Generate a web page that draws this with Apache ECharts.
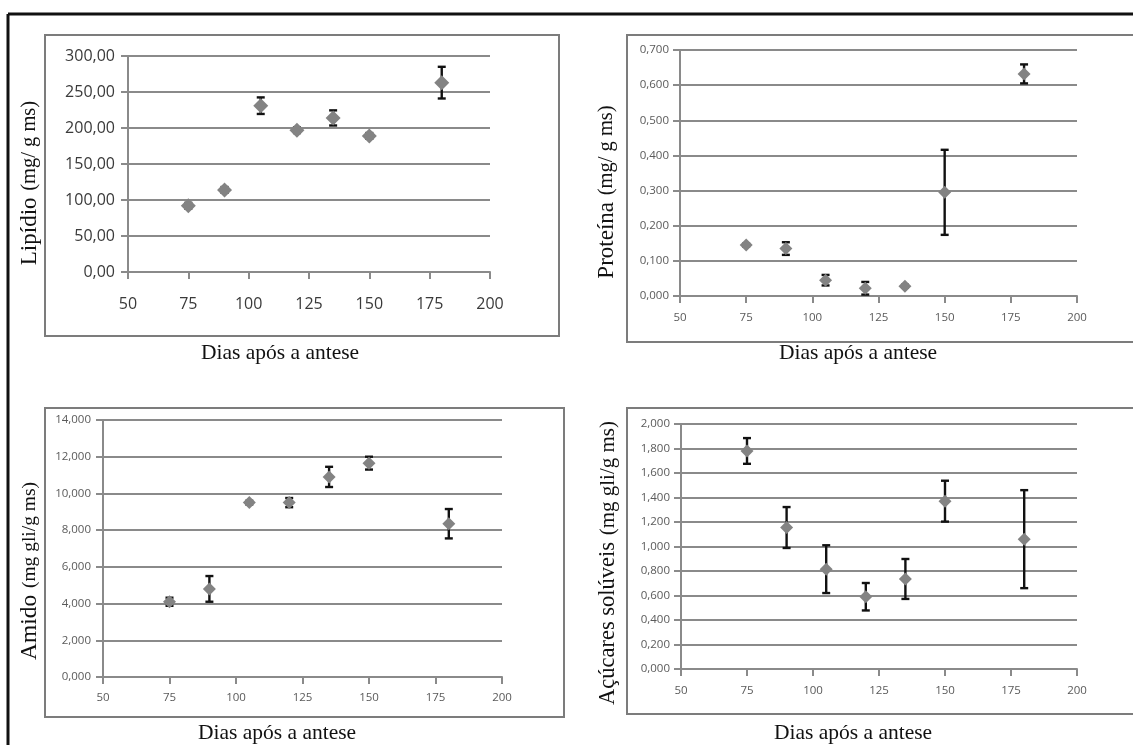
<!DOCTYPE html>
<html><head><meta charset="utf-8">
<script src="https://cdn.jsdelivr.net/npm/echarts@6/dist/echarts.min.js"></script>
<style>html,body{margin:0;padding:0;background:#fff}#c{width:1133px;height:745px}</style>
</head><body><div id="c"></div>
<script>
// ---- data ----
const days = [75, 90, 105, 120, 135, 150, 180];
const lipidio = [92, 114, 231, 197, 214, 189, 263];
const lipidioErr = [4, 4, 11.5, 4, 10.5, 4, 22];
const proteina = [0.145, 0.135, 0.045, 0.022, 0.028, 0.295, 0.632];
const proteinaErr = [0.004, 0.018, 0.015, 0.018, 0.004, 0.121, 0.027];
const amido = [4.1, 4.8, 9.5, 9.5, 10.9, 11.65, 8.35];
const amidoErr = [0.22, 0.7, 0.1, 0.25, 0.55, 0.35, 0.8];
const acucares = [1.78, 1.155, 0.815, 0.59, 0.735, 1.37, 1.06];
const acucaresErr = [0.105, 0.167, 0.195, 0.112, 0.163, 0.167, 0.40];
const xAxisTitle = 'Dias após a antese';
const yTitles = [
  ['Lipídio', '(mg/ g ms)'],
  ['Proteína', '(mg/ g ms)'],
  ['Amido', '(mg gli/g ms)'],
  ['Açúcares solúveis', '(mg gli/g ms)']
];

// ---- layout ----
const panels = [
  {vals: lipidio, errs: lipidioErr, max: 300, interval: 50, dec: 2,
   grid: {left: 128, top: 56, width: 362, height: 216}, big: true,
   xl: 24, yl: 13, sym: 15},
  {vals: proteina, errs: proteinaErr, max: 0.7, interval: 0.1, dec: 3,
   grid: {left: 680, top: 50, width: 397, height: 246}, big: false,
   xl: 16, yl: 11, sym: 13},
  {vals: amido, errs: amidoErr, max: 14, interval: 2, dec: 3,
   grid: {left: 103, top: 420, width: 399, height: 257}, big: false,
   xl: 15, yl: 12, sym: 13},
  {vals: acucares, errs: acucaresErr, max: 2, interval: 0.2, dec: 3,
   grid: {left: 681, top: 424, width: 396, height: 245}, big: false,
   xl: 16, yl: 11, sym: 13}
];
const frames = [
  {x: 45, y: 35, w: 514, h: 301},
  {x: 627, y: 35, w: 520, h: 307},
  {x: 45, y: 408, w: 519, h: 309},
  {x: 627, y: 408, w: 520, h: 306}
];
const yTitlePos = [[30, 183, 23, 20.5], [607, 192, 23, 20.5], [30, 571, 23.5, 19.5], [608, 563, 22.5, 21]];
const xTitlePos = [[280, 353], [858, 353], [277, 733], [853, 733]];

const gridColor = '#8a8a8a';
const fmt = d => v => v.toFixed(d).replace('.', ',');

function errRender(params, api) {
  const x = api.value(0), y = api.value(1), e = api.value(2);
  const t = api.coord([x, y + e]), b = api.coord([x, y - e]);
  const c = 4;
  const st = {stroke: '#111', lineWidth: 2.4};
  return {type: 'group', children: [
    {type: 'line', shape: {x1: t[0], y1: t[1], x2: b[0], y2: b[1]}, style: st},
    {type: 'line', shape: {x1: t[0] - c, y1: t[1], x2: t[0] + c, y2: t[1]}, style: st},
    {type: 'line', shape: {x1: b[0] - c, y1: b[1], x2: b[0] + c, y2: b[1]}, style: st}
  ]};
}

const option = {
  backgroundColor: '#fff',
  animation: false,
  grid: [], xAxis: [], yAxis: [], series: [], graphic: []
};

panels.forEach((p, i) => {
  const labelFont = p.big
    ? {fontFamily: 'Open Sans', fontSize: 16, color: '#3a3a3a'}
    : {fontFamily: 'Open Sans', fontSize: 11.5, color: '#5a5a5a'};
  option.grid.push(Object.assign({containLabel: false}, p.grid));
  option.xAxis.push({
    type: 'value', gridIndex: i, min: 50, max: 200, interval: 25,
    axisLine: {show: true, onZero: false, lineStyle: {color: gridColor, width: 2}},
    axisTick: {show: true, length: 7, lineStyle: {color: gridColor, width: 2}},
    splitLine: {show: false},
    axisLabel: Object.assign({margin: p.xl}, labelFont)
  });
  option.yAxis.push({
    type: 'value', gridIndex: i, min: 0, max: p.max, interval: p.interval,
    axisLine: {show: true, lineStyle: {color: gridColor, width: 2}},
    axisTick: {show: true, length: 7, lineStyle: {color: gridColor, width: 2}},
    splitLine: {show: true, lineStyle: {color: gridColor, width: 2}},
    axisLabel: Object.assign({margin: p.yl, formatter: fmt(p.dec)}, labelFont)
  });
  const data = days.map((d, k) => [d, p.vals[k], p.errs[k]]);
  option.series.push({
    type: 'custom', xAxisIndex: i, yAxisIndex: i, renderItem: errRender,
    data: data, encode: {x: 0, y: 1}, z: 3, silent: true
  });
  option.series.push({
    type: 'scatter', xAxisIndex: i, yAxisIndex: i, symbol: 'diamond',
    symbolSize: p.sym, itemStyle: {color: '#838383', opacity: 1},
    data: days.map((d, k) => [d, p.vals[k]]), z: 4, silent: true
  });
});

frames.forEach(f => {
  option.graphic.push({type: 'rect', shape: {x: f.x, y: f.y, width: f.w, height: f.h},
    style: {fill: 'none', stroke: '#7c7c7c', lineWidth: 2}, z: 1});
});
// outer black border (top and left)
option.graphic.push({type: 'line', shape: {x1: 8, y1: 14, x2: 1133, y2: 14}, style: {stroke: '#111', lineWidth: 3}});
option.graphic.push({type: 'line', shape: {x1: 8, y1: 14, x2: 8, y2: 745}, style: {stroke: '#111', lineWidth: 3}});

yTitles.forEach((t, i) => {
  const [x, y, s1, s2] = yTitlePos[i];
  option.graphic.push({type: 'text', x: x, y: y, rotation: Math.PI / 2,
    style: {text: '{a|' + t[0] + '}  {b|' + t[1] + '}', align: 'center', verticalAlign: 'middle',
      rich: {a: {fontFamily: 'Liberation Serif', fontSize: s1, fill: '#111'},
             b: {fontFamily: 'Liberation Serif', fontSize: s2, fill: '#111'}}}});
});
xTitlePos.forEach(([x, y]) => {
  option.graphic.push({type: 'text', x: x, y: y,
    style: {text: xAxisTitle, align: 'center', verticalAlign: 'middle',
      fontFamily: 'Liberation Serif', fontSize: 21.5, fill: '#111'}});
});

const chart = echarts.init(document.getElementById('c'), null, {renderer: 'canvas'});
chart.setOption(option);
</script>
</body></html>
